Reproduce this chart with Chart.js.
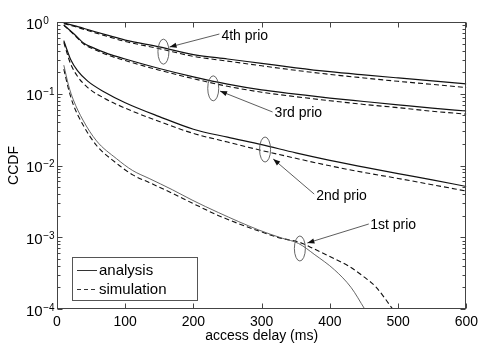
<!DOCTYPE html>
<html><head><meta charset="utf-8">
<script src="https://cdn.jsdelivr.net/npm/chart.js@4/dist/chart.umd.min.js"></script>
<style>html,body{margin:0;padding:0;background:#fff}#wrap{width:483px;height:345px}</style>
</head><body><div id="wrap"><canvas id="c"></canvas></div>
<script>
// ---- data ----
const xTicks = [0, 100, 200, 300, 400, 500, 600];
const yExponents = [0, -1, -2, -3, -4];

const delay4 = [10, 25, 50, 75, 100, 150, 200, 250, 300, 350, 400, 450, 500, 550, 600];
const analysis4 = [0.97, 0.89, 0.76, 0.65, 0.56, 0.45, 0.352, 0.305, 0.265, 0.23, 0.203, 0.183, 0.166, 0.151, 0.137];
const simulation4 = [0.95, 0.87, 0.735, 0.625, 0.535, 0.425, 0.332, 0.285, 0.245, 0.212, 0.186, 0.166, 0.149, 0.135, 0.122];

const delay3 = [10, 25, 40, 50, 75, 100, 150, 200, 250, 300, 350, 400, 450, 500, 550, 600];
const analysis3 = [0.91, 0.68, 0.50, 0.45, 0.36, 0.305, 0.225, 0.172, 0.136, 0.113, 0.099, 0.087, 0.078, 0.070, 0.063, 0.0575];
const simulation3 = [0.90, 0.665, 0.485, 0.435, 0.345, 0.29, 0.213, 0.162, 0.127, 0.105, 0.091, 0.080, 0.071, 0.064, 0.057, 0.052];

const delay2 = [10, 15, 20, 30, 45, 70, 100, 150, 200, 250, 300, 350, 400, 450, 500, 550, 600];
const analysis2 = [0.55, 0.40, 0.30, 0.21, 0.15, 0.105, 0.075, 0.048, 0.032, 0.0248, 0.0195, 0.0150, 0.0118, 0.0095, 0.0077, 0.0063, 0.0051];
const simulation2 = [0.52, 0.36, 0.26, 0.175, 0.122, 0.086, 0.063, 0.041, 0.028, 0.0212, 0.0162, 0.0126, 0.0099, 0.0080, 0.0066, 0.0054, 0.0044];

const delay1a = [10, 17, 24, 38, 58, 87, 111, 135, 169, 198, 237, 296, 330, 354, 378, 407, 431, 451];
const analysis1 = [0.25, 0.13, 0.082, 0.043, 0.022, 0.0125, 0.0085, 0.0066, 0.0046, 0.0033, 0.0022, 0.00126, 0.00097, 0.00082, 0.00057, 0.00035, 0.0002, 0.0001];
const delay1s = [10, 17, 24, 38, 58, 87, 111, 135, 169, 198, 237, 296, 330, 354, 378, 407, 427, 448, 468, 492];
const simulation1 = [0.22, 0.115, 0.07, 0.037, 0.019, 0.0108, 0.0074, 0.0058, 0.0041, 0.003, 0.002, 0.00122, 0.00096, 0.00086, 0.00068, 0.0005, 0.0004, 0.00029, 0.0002, 0.0001];

const seriesNames = ['analysis', 'simulation'];
const prioLabels = ['4th prio', '3rd prio', '2nd prio', '1st prio'];
// annotation anchors in data coordinates: ellipse centre, arrow start, arrow end, label
const annEllipse = [[156, 0.386], [229, 0.119], [305, 0.0167], [356, 0.000697]];
const annArrowFrom = [[238, 0.68], [316, 0.0557], [377, 0.0040], [457, 0.00153]];
const annArrowTo = [[165, 0.448], [239, 0.109], [317, 0.0123], [367, 0.000832]];
const annText = [[241, 0.638], [319, 0.0539], [380, 0.00376], [459, 0.00148]];

// ---- drawing ----
const FONT = "'Liberation Sans', Arial, sans-serif";
function pts(xs, ys) { return xs.map((x, i) => ({ x: x, y: ys[i] })); }

const solid = { borderColor: '#111', borderWidth: 1.2, fill: false, pointRadius: 0 };
const dashed = { borderColor: '#111', borderWidth: 1.1, borderDash: [5, 3], fill: false, pointRadius: 0 };

const datasets = [
  Object.assign({ label: '4th analysis', data: pts(delay4, analysis4) }, solid),
  Object.assign({ label: '4th simulation', data: pts(delay4, simulation4) }, dashed),
  Object.assign({ label: '3rd analysis', data: pts(delay3, analysis3) }, solid),
  Object.assign({ label: '3rd simulation', data: pts(delay3, simulation3) }, dashed),
  Object.assign({ label: '2nd analysis', data: pts(delay2, analysis2) }, solid),
  Object.assign({ label: '2nd simulation', data: pts(delay2, simulation2) }, dashed),
  Object.assign({ label: '1st analysis', data: pts(delay1a, analysis1) }, solid, { borderColor: '#555', borderWidth: 0.9 }),
  Object.assign({ label: '1st simulation', data: pts(delay1s, simulation1) }, dashed)
];

const decor = {
  id: 'decor',
  afterDatasetsDraw(chart) {
    const ctx = chart.ctx, a = chart.chartArea, sx = chart.scales.x, sy = chart.scales.y;
    ctx.save();
    const L = Math.round(a.left) + 0.5, R = Math.round(a.right) - 0.5, T = Math.round(a.top) + 0.5, B = Math.round(a.bottom) - 0.5;
    ctx.strokeStyle = '#444'; ctx.lineWidth = 1;
    ctx.strokeRect(L, T, R - L, B - T);
    ctx.beginPath();
    xTicks.forEach(v => {
      const px = Math.round(sx.getPixelForValue(v)) + 0.5;
      ctx.moveTo(px, B); ctx.lineTo(px, B - 5);
      ctx.moveTo(px, T); ctx.lineTo(px, T + 5);
    });
    for (let e = -4; e <= 0; e++) {
      for (let k = 1; k <= 9; k++) {
        const v = k * Math.pow(10, e);
        if (v > 1.0001) break;
        const py = Math.round(sy.getPixelForValue(v)) + 0.5;
        const len = k === 1 ? 5 : 3;
        ctx.moveTo(L, py); ctx.lineTo(L + len, py);
        ctx.moveTo(R, py); ctx.lineTo(R - len, py);
      }
    }
    ctx.stroke();

    // y tick labels 10^e
    ctx.fillStyle = '#000'; ctx.textBaseline = 'alphabetic'; ctx.textAlign = 'left';
    yExponents.forEach(e => {
      const py = sy.getPixelForValue(Math.pow(10, e));
      ctx.font = '15px ' + FONT;
      ctx.fillText('10', 26, py + 6.5);
      const w = ctx.measureText('10').width;
      ctx.font = '10px ' + FONT;
      ctx.fillText(e < 0 ? '\u2212' + (-e) : String(e), 26 + w + 0.5, py + 1.5);
    });

    // annotations
    const P = (p) => [sx.getPixelForValue(p[0]), sy.getPixelForValue(p[1])];
    for (let i = 0; i < prioLabels.length; i++) {
      const [ex, ey] = P(annEllipse[i]);
      ctx.strokeStyle = '#555'; ctx.lineWidth = 0.9;
      ctx.beginPath(); ctx.ellipse(ex, ey, 5.5, 12.5, 0, 0, Math.PI * 2); ctx.stroke();
      const [x0, y0] = P(annArrowFrom[i]);
      const [x1, y1] = P(annArrowTo[i]);
      ctx.strokeStyle = '#333'; ctx.lineWidth = 0.8;
      ctx.beginPath(); ctx.moveTo(x0, y0); ctx.lineTo(x1, y1); ctx.stroke();
      const ang = Math.atan2(y1 - y0, x1 - x0), hl = 7, hw = 2.6;
      const bx = x1 - hl * Math.cos(ang), by = y1 - hl * Math.sin(ang);
      ctx.fillStyle = '#111';
      ctx.beginPath();
      ctx.moveTo(x1, y1);
      ctx.lineTo(bx + hw * Math.sin(ang), by - hw * Math.cos(ang));
      ctx.lineTo(bx - hw * Math.sin(ang), by + hw * Math.cos(ang));
      ctx.closePath(); ctx.fill();
      const [tx, ty] = P(annText[i]);
      ctx.fillStyle = '#000'; ctx.font = '14px ' + FONT; ctx.textBaseline = 'middle';
      ctx.fillText(prioLabels[i], tx, ty);
    }

    // legend
    ctx.fillStyle = '#fff'; ctx.strokeStyle = '#555'; ctx.lineWidth = 1;
    ctx.fillRect(72.5, 257.5, 125, 43); ctx.strokeRect(72.5, 257.5, 125, 43);
    ctx.strokeStyle = '#333'; ctx.lineWidth = 1;
    ctx.beginPath(); ctx.moveTo(77, 270.5); ctx.lineTo(97, 270.5); ctx.stroke();
    ctx.setLineDash([4, 3]);
    ctx.beginPath(); ctx.moveTo(77, 289.5); ctx.lineTo(97, 289.5); ctx.stroke();
    ctx.setLineDash([]);
    ctx.fillStyle = '#000'; ctx.font = '15px ' + FONT; ctx.textBaseline = 'middle';
    ctx.fillText(seriesNames[0], 99, 270.5);
    ctx.fillText(seriesNames[1], 99, 289.5);
    ctx.restore();
  }
};

new Chart(document.getElementById('c'), {
  type: 'line',
  data: { datasets: datasets },
  options: {
    responsive: true, maintainAspectRatio: false, animation: false,
    layout: { padding: { top: 22, right: 14, left: 0, bottom: 0 } },
    plugins: { legend: { display: false }, tooltip: { enabled: false } },
    elements: { point: { radius: 0 }, line: { cubicInterpolationMode: 'monotone' } },
    scales: {
      x: {
        type: 'linear', min: 0, max: 600,
        grid: { display: false, drawTicks: false }, border: { display: false },
        ticks: { stepSize: 100, autoSkip: false, maxRotation: 0, font: { family: FONT, size: 14 }, color: '#000', padding: 5 },
        title: { display: true, text: 'access delay (ms)', font: { family: FONT, size: 14 }, color: '#000', padding: { top: 0, bottom: 0 } },
        afterFit(s) { s.height = 36; }
      },
      y: {
        type: 'logarithmic', min: 1e-4, max: 1,
        grid: { display: false, drawTicks: false }, border: { display: false },
        ticks: { display: false },
        title: { display: true, text: 'CCDF', font: { family: FONT, size: 14 }, color: '#000', padding: { top: 6, bottom: 0 } },
        afterFit(s) { s.width = 57; }
      }
    }
  },
  plugins: [decor]
});
</script>
</body></html>
